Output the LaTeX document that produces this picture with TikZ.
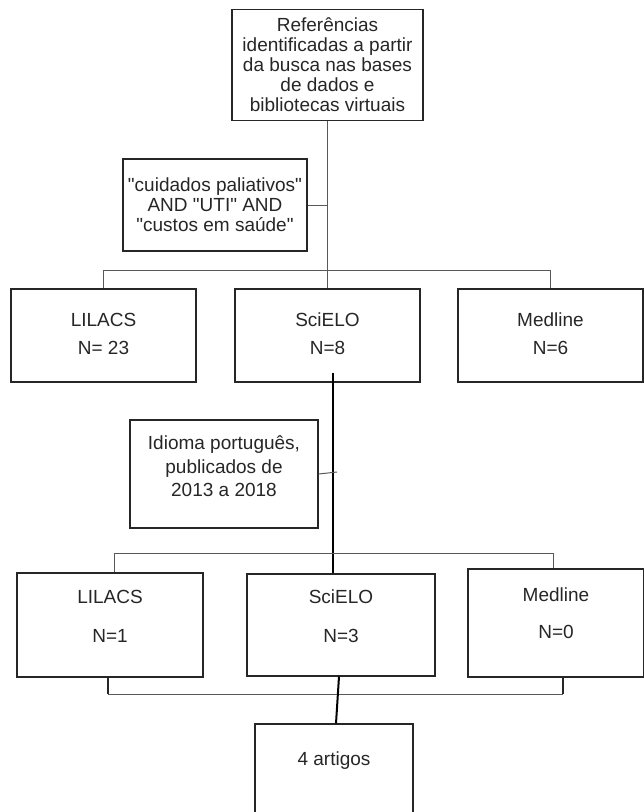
\documentclass[tikz,border=0pt]{standalone}
\usepackage{fontspec}
\setmainfont{Liberation Sans}
\begin{document}
\begin{tikzpicture}[x=1pt,y=-1pt,
  box/.style={draw=black!85, line width=1.1pt, rectangle, inner sep=0pt, align=center},
  txt/.style={inner sep=0pt, align=center, font=\fontsize{19}{20}\selectfont, text=black!85},
  thinline/.style={draw=black!65, line width=1pt},
  legline/.style={draw=black!85, line width=1.8pt},
  thickline/.style={draw=black, line width=2pt}]
\useasboundingbox (0,0) rectangle (644,812);
\clip (0,0) rectangle (644,812);
% top box
\node[box, txt, minimum width=191pt, minimum height=111pt] (ref) at (327.5,65)
  {Referências\\identificadas a partir\\da busca nas bases\\de dados e\\bibliotecas virtuais};
\node[box, txt, minimum width=184pt, minimum height=92pt] (q1) at (215,205)
  {\textquotedbl cuidados paliativos\textquotedbl\\AND \textquotedbl UTI\textquotedbl{} AND\\\textquotedbl custos em saúde\textquotedbl};
% row 1
\node[box, minimum width=185pt, minimum height=93pt] (l1) at (103.5,335.5) {};
\node[box, minimum width=185pt, minimum height=93pt] (s1) at (327.5,335.5) {};
\node[box, minimum width=185pt, minimum height=93pt] (m1) at (550.5,335.5) {};
\node[txt] (l1t) at (103.5,334) {LILACS\\[8pt]N= 23};
\node[txt] (s1t) at (327.5,334) {SciELO\\[8pt]N=8};
\node[txt] (m1t) at (550.5,334) {Medline\\[8pt]N=6};
% second query
\node[box, minimum width=188pt, minimum height=108pt] (q2) at (224,474) {};
\node[txt, font=\fontsize{19}{23.5}\selectfont] (q2t) at (224,466.5)
  {Idioma português,\\publicados de\\2013 a 2018};
% row 2
\node[box, minimum width=186pt, minimum height=104pt] (l2) at (110,625) {};
\node[box, minimum width=188pt, minimum height=102pt] (s2) at (341,625) {};
\node[box, minimum width=176pt, minimum height=108pt] (m2) at (556,623) {};
\node[txt] (l2t) at (110,616.5) {LILACS\\[19pt]N=1};
\node[txt] (s2t) at (341,616.5) {SciELO\\[19pt]N=3};
\node[txt] (m2t) at (556,613.5) {Medline\\[17pt]N=0};
% final
\node[box, minimum width=158pt, minimum height=102pt] (fin) at (334,775) {};
\node[txt] (fint) at (334,761) {4 artigos};
% connectors
\coordinate (j1) at (327.5,270);
\draw[thinline] (ref.south) -- (j1);
\draw[thinline] (q1.east) -- (q1.east -| j1);
\draw[thinline] (l1.north) -- (l1.north |- j1) -- (m1.north |- j1) -- (m1.north);
\draw[thinline] (j1) -- (s1.north);
\coordinate (t1) at (333,373);
\draw[thickline] (t1) -- (t1 |- s2.north);
\coordinate (q2e) at (337,472);
\draw[thinline] (q2.east) -- (q2e);
\coordinate (h2l) at (114,553);
\coordinate (h2r) at (553,553);
\draw[thinline] (h2l |- l2.north) -- (h2l) -- (h2r) -- (h2r |- m2.north);
\coordinate (b1) at (108,694);
\coordinate (b2) at (563,694);
\draw[legline] (b1 |- l2.south) -- (b1);
\draw[legline] (b2 |- m2.south) -- (b2);
\draw[thinline] (b1) -- (b2);
\coordinate (f1) at (339,0);
\coordinate (f2) at (336,0);
\draw[thickline] (f1 |- s2.south) -- (f2 |- fin.north);
\end{tikzpicture}
\end{document}
